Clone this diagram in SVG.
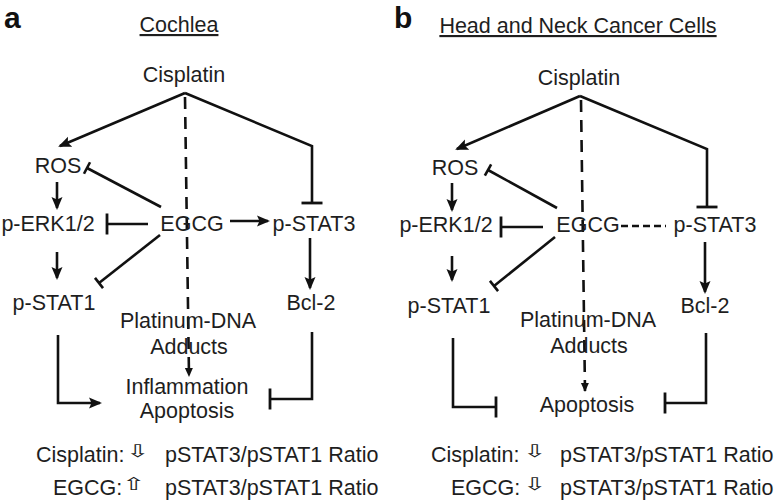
<svg xmlns="http://www.w3.org/2000/svg" width="779" height="503" viewBox="0 0 779 503">
<style>
text{font-family:"Liberation Sans",Arial,sans-serif;font-size:21.5px;fill:#1e1e1e}
.c{text-anchor:middle}
.pl{font-weight:bold;font-size:30px;fill:#111}
.hd{text-decoration:underline}
.sym{font-family:"DejaVu Sans",sans-serif;font-size:15px;fill:#222}
.ln{fill:none;stroke:#111;stroke-width:2.6}
.dash{fill:none;stroke:#111;stroke-width:2.6;stroke-dasharray:12 8}
.dot{fill:none;stroke:#111;stroke-width:2.4;stroke-dasharray:7 4}
</style>
<defs>
<marker id="arr" markerUnits="userSpaceOnUse" markerWidth="14" markerHeight="12" viewBox="0 -6 14 12" refX="11" refY="0" orient="auto">
<path d="M0,-5.5 L13,0 L0,5.5 L2.5,0 z" fill="#111"/>
</marker>
<marker id="arrs" markerUnits="userSpaceOnUse" markerWidth="10" markerHeight="10" viewBox="0 -5 10 10" refX="8" refY="0" orient="auto">
<path d="M0,-4 L9,0 L0,4 z" fill="#111"/>
</marker>
<marker id="tee" markerUnits="userSpaceOnUse" markerWidth="6" markerHeight="26" viewBox="-3 -13 6 26" refX="0" refY="0" orient="auto">
<path d="M0,-10.5 V10.5" stroke="#111" stroke-width="2.8"/>
</marker>
<marker id="teeS" markerUnits="userSpaceOnUse" markerWidth="6" markerHeight="18" viewBox="-3 -9 6 18" refX="0" refY="0" orient="auto">
<path d="M0,-6.5 V6.5" stroke="#111" stroke-width="2.6"/>
</marker>
</defs>

<g id="connectors">
<!-- panel a -->
<path class="ln" d="M185,93 L60,146" marker-end="url(#arr)"/>
<path class="ln" d="M185,93 L312,146 L312,203" marker-end="url(#tee)"/>
<path class="dash" d="M185,97 L189,376" marker-end="url(#arrs)"/>
<path class="ln" d="M161,207 L87,168" marker-end="url(#teeS)"/>
<path class="ln" d="M57,182 L57,208" marker-end="url(#arr)"/>
<path class="ln" d="M148,224 L107,224" marker-end="url(#tee)"/>
<path class="ln" d="M230,221 L268,221" marker-end="url(#arr)"/>
<path class="ln" d="M57,252 L57,278" marker-end="url(#arr)"/>
<path class="ln" d="M160,235 L99,283" marker-end="url(#teeS)"/>
<path class="ln" d="M310,238 L310,288" marker-end="url(#arr)"/>
<path class="ln" d="M58,335 L58,403 L100,403" marker-end="url(#arr)"/>
<path class="ln" d="M312,332 L312,399 L270,399" marker-end="url(#tee)"/>
<!-- panel b -->
<path class="ln" d="M580,96 L457,149" marker-end="url(#arr)"/>
<path class="ln" d="M580,96 L707,149 L707,207" marker-end="url(#tee)"/>
<path class="dash" d="M581,100 L585,391" marker-end="url(#arrs)"/>
<path class="ln" d="M557,208 L488,170" marker-end="url(#teeS)"/>
<path class="ln" d="M452,183 L452,210" marker-end="url(#arr)"/>
<path class="ln" d="M543,227 L501,227" marker-end="url(#tee)"/>
<path class="dot" d="M621,226 L666,226"/>
<path class="ln" d="M452,256 L452,280" marker-end="url(#arr)"/>
<path class="ln" d="M555,237 L494,286" marker-end="url(#teeS)"/>
<path class="ln" d="M705,242 L705,292" marker-end="url(#arr)"/>
<path class="ln" d="M453,338 L453,407 L496,407" marker-end="url(#tee)"/>
<path class="ln" d="M706,333 L706,403 L665,403" marker-end="url(#tee)"/>
</g>

<g id="panel-a">
<text class="pl" x="4" y="28">a</text>
<text class="c hd" x="179" y="32">Cochlea</text>
<g id="a-cisplatin"><text class="c" x="184" y="82">Cisplatin</text></g>
<g id="a-ros"><text class="c" x="58" y="173">ROS</text></g>
<g id="a-perk"><text class="c" x="48" y="231">p-ERK1/2</text></g>
<g id="a-egcg"><text class="c" x="192" y="231">EGCG</text></g>
<g id="a-pstat3"><text class="c" x="314" y="231">p-STAT3</text></g>
<g id="a-pstat1"><text class="c" x="54" y="310">p-STAT1</text></g>
<g id="a-bcl2"><text class="c" x="311" y="310">Bcl-2</text></g>
<g id="a-adducts"><text class="c" x="188" y="328">Platinum-DNA</text><text class="c" x="189" y="354">Adducts</text></g>
<g id="a-apoptosis"><text class="c" x="187" y="394">Inflammation</text><text class="c" x="187" y="418">Apoptosis</text></g>
<g id="a-legend">
<text x="36" y="462">Cisplatin:</text><text class="sym c" transform="translate(138,457) scale(1.9,1.15)">⇩</text>
<text x="165" y="462">pSTAT3/pSTAT1 Ratio</text>
<text x="53" y="495">EGCG:</text><text class="sym c" transform="translate(134,490) scale(1.9,1.15)">⇧</text>
<text x="165" y="495">pSTAT3/pSTAT1 Ratio</text>
</g>
</g>

<g id="panel-b">
<text class="pl" x="394" y="28">b</text>
<text class="c hd" x="578" y="33">Head and Neck Cancer Cells</text>
<g id="b-cisplatin"><text class="c" x="579" y="85">Cisplatin</text></g>
<g id="b-ros"><text class="c" x="455" y="175">ROS</text></g>
<g id="b-perk"><text class="c" x="446" y="232">p-ERK1/2</text></g>
<g id="b-egcg"><text class="c" x="588" y="232">EGCG</text></g>
<g id="b-pstat3"><text class="c" x="715" y="232">p-STAT3</text></g>
<g id="b-pstat1"><text class="c" x="449" y="313">p-STAT1</text></g>
<g id="b-bcl2"><text class="c" x="705" y="313">Bcl-2</text></g>
<g id="b-adducts"><text class="c" x="588" y="327">Platinum-DNA</text><text class="c" x="589" y="353">Adducts</text></g>
<g id="b-apoptosis"><text class="c" x="587" y="412">Apoptosis</text></g>
<g id="b-legend">
<text x="431" y="462">Cisplatin:</text><text class="sym c" transform="translate(535,457) scale(1.9,1.15)">⇩</text>
<text x="560" y="462">pSTAT3/pSTAT1 Ratio</text>
<text x="451" y="495">EGCG:</text><text class="sym c" transform="translate(535,490) scale(1.9,1.15)">⇩</text>
<text x="560" y="495">pSTAT3/pSTAT1 Ratio</text>
</g>
</g>
</svg>
